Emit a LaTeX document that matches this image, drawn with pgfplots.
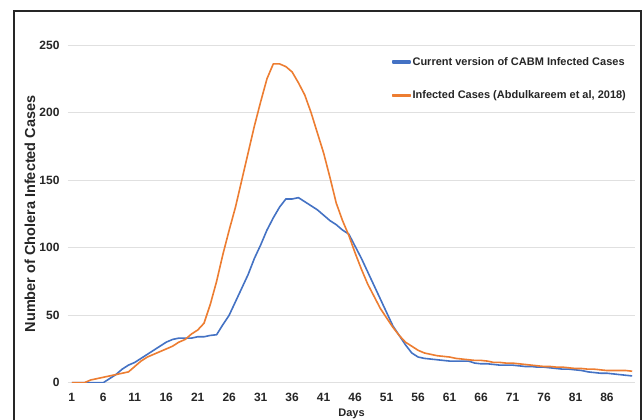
\documentclass[border=0pt]{standalone}
\usepackage{pgfplots}
\pgfplotsset{compat=1.18}
\usepackage{fontspec}
\setmainfont{Liberation Sans}
\definecolor{exblue}{HTML}{4472C4}
\definecolor{exorange}{HTML}{ED7D31}

\pgfplotstableread{
day val
1 0
2 0
3 0
4 0
5 0
6 0
7 3
8 6
9 10
10 13
11 15
12 18
13 21
14 24
15 27
16 30
17 32
18 33
19 33
20 33
21 34
22 34
23 35
24 35.5
25 43
26 50
27 60
28 70
29 80
30 92
31 102
32 113
33 122
34 130
35 136
36 136
37 137
38 134
39 131
40 128
41 124
42 120
43 117
44 113
45 110
46 101
47 92
48 82
49 72
50 62
51 52
52 42
53 35
54 28
55 22
56 19
57 18
58 17.5
59 17
60 16.5
61 16
62 16
63 16
64 16
65 14.5
66 14
67 14
68 13.5
69 13
70 13
71 13
72 12.5
73 12
74 12
75 11.5
76 11.5
77 11
78 10.5
79 10
80 10
81 9.5
82 9
83 8
84 7.5
85 7
86 7
87 6.5
88 6
89 5.5
90 5
}\cabm

\pgfplotstableread{
day val
1 0
2 0
3 0
4 2
5 3
6 4
7 5
8 6
9 7
10 8
11 12
12 16
13 19
14 21
15 23
16 25
17 27
18 30
19 32
20 36
21 39
22 44
23 58
24 75
25 95
26 113
27 130
28 150
29 170
30 190
31 208
32 225
33 236
34 236
35 234
36 230
37 222
38 213
39 200
40 185
41 170
42 152
43 133
44 120
45 109
46 96
47 84
48 73
49 64
50 55
51 48
52 41
53 35
54 30
55 27
56 24
57 22
58 21
59 20
60 19.5
61 19
62 18
63 17.5
64 17
65 16.5
66 16.5
67 16
68 15
69 15
70 14.5
71 14.5
72 14
73 13.5
74 13
75 12.5
76 12
77 12
78 11.5
79 11.5
80 11
81 10.5
82 10.5
83 10
84 10
85 9.5
86 9
87 9
88 9
89 9
90 8.5
}\abdul

\begin{document}
\begin{tikzpicture}[x=1pt,y=1pt]
\useasboundingbox (0,0) rectangle (643,420);
\fill[white] (0,0) rectangle (643,420);
\draw[line width=2pt, black!85] (14,-5) -- (14,409) -- (641,409) -- (641,-5);
\begin{axis}[
  at={(68pt,37.3pt)}, anchor=south west,
  scale only axis,
  width=567pt, height=337.7pt,
  xmin=0.4, xmax=90.45,
  ymin=0, ymax=250,
  xtick={1,6,...,86},
  ytick={0,50,...,250},
  /pgf/number format/assume math mode=true,
  axis line style={draw=none},
  major tick length=0pt,
  ymajorgrids,
  major grid style={black!12, line width=0.8pt},
  tick label style={font=\fontsize{12}{14}\selectfont\bfseries, text=black!85},
  yticklabel style={xshift=-5pt},
  xticklabel style={yshift=-7pt},
  xlabel={Days},
  ylabel={Number of Cholera Infected Cases},
  xlabel style={font=\fontsize{11}{13}\selectfont\bfseries, at={(axis description cs:0.5,-0.093)}, anchor=center, text=black!85},
  ylabel style={font=\fontsize{14.5}{16}\selectfont\bfseries, at={(axis description cs:-0.067,0.5)}, anchor=center, rotate=0, text=black!85},
  legend cell align=left,
  legend style={at={(axis description cs:0.571,0.97)}, anchor=north west, draw=none, fill=none,
    font=\fontsize{11}{12}\selectfont\bfseries, inner sep=0pt, row sep=20pt, text=black!85},
  legend image code/.code={\fill[#1] (0pt,-0.9pt) rectangle (17pt,0.9pt);},
]
\addplot[color=exblue, mark=none, line width=1.6pt, line join=round] table[x=day, y=val] {\cabm};
\addlegendentry{Current version of CABM Infected Cases}
\addplot[color=exorange, mark=none, line width=1.6pt, line join=round] table[x=day, y=val] {\abdul};
\addlegendentry{Infected Cases (Abdulkareem et al, 2018)}
\end{axis}
\end{tikzpicture}
\end{document}
